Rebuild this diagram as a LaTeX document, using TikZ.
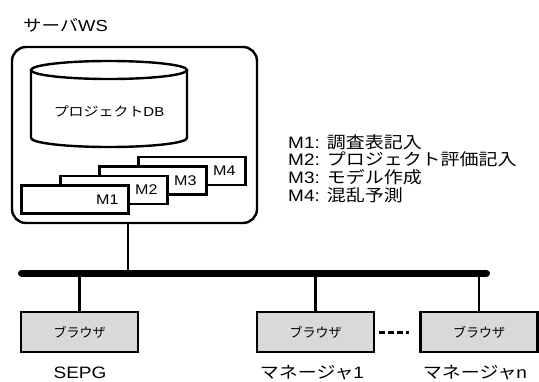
\documentclass[tikz,border=0pt]{standalone}
\usepackage{fontspec}
\setmainfont{Liberation Sans}[FakeStretch=1.15]
\newfontfamily\jp{Noto Sans CJK JP}[FakeStretch=1.15]
\newfontfamily\jpn{Noto Sans CJK JP}
\usetikzlibrary{positioning,calc}
\definecolor{boxgray}{RGB}{217,217,217}

\begin{document}
\begin{tikzpicture}[x=1pt,y=-1pt,
frame/.style={draw,line width=2.4pt},
module/.style={rectangle,draw,line width=2.4pt,fill=white,minimum width=107pt,minimum height=28pt,inner sep=0pt},
mname/.style={anchor=east,inner sep=0pt,font=\fontsize{14}{16}\selectfont},
browser/.style={rectangle,draw,line width=2.8pt,fill=boxgray,minimum width=117pt,minimum height=40pt,inner sep=0pt,font=\fontsize{13}{15}\selectfont\jpn},
user/.style={anchor=base,inner sep=0pt,font=\fontsize{16.5}{18}\selectfont},
link/.style={line width=2.6pt},
bus/.style={line width=7pt,line cap=round},
dots/.style={line width=3pt,dash pattern=on 5.5pt off 3.3pt}]

\useasboundingbox (0,0) rectangle (539,381);

% server
\node[anchor=west,inner sep=0pt,font=\fontsize{16}{18}\selectfont] (srvname) at (23,25) {{\jp サーバ}WS};
\node[frame,rectangle,rounded corners=14pt,minimum width=245pt,minimum height=176pt,inner sep=0pt] (server) at (134.5,135) {};

% database
\draw[frame,fill=white] (31,70) -- (31,138) arc[start angle=180,end angle=0,x radius=78,y radius=9] -- (187,70);
\draw[frame] (109,70) ellipse[x radius=78,y radius=9];
\node[font=\fontsize{13}{15}\selectfont] (db) at (109,111) {{\jp プロジェクト}DB};

% modules, back to front
\node[module] (m4) at (192,171) {};
\node[mname] (m4name) at ([xshift=-11pt]m4.east) {M4};
\node[module] (m3) at (153,180.5) {};
\node[mname] (m3name) at ([xshift=-11pt]m3.east) {M3};
\node[module] (m2) at (114,190) {};
\node[mname] (m2name) at ([xshift=-11pt]m2.east) {M2};
\node[module] (m1) at (75,199.5) {};
\node[mname] (m1name) at ([xshift=-11pt]m1.east) {M1};

% legend
\node[anchor=west,align=left,inner sep=0pt,font=\fontsize{16.5}{17.7}\selectfont] (legend) at (288,168.5)
    {M1: {\jp 調査表記入}\\
    M2: {\jp プロジェクト評価記入}\\
    M3: {\jp モデル作成}\\
    M4: {\jp 混乱予測}};

% network
\coordinate (busl) at (21.5,273);
\coordinate (busr) at (486.5,273);
\coordinate (tap) at (128,273);
\draw[link] (server.south -| tap) -- (tap);
\draw[bus] (busl) -- (busr);

% browsers
\node[browser] (b1) at (79.5,332) {ブラウザ};
\node[browser] (b2) at (315.5,332) {ブラウザ};
\node[browser] (b3) at (479,332) {ブラウザ};

\draw[link] (b1.north) -- (b1.north |- busl);
\draw[link] (b2.north) -- (b2.north |- busl);
\draw[link] (b3.north) -- (b3.north |- busl);
\draw[dots] ([xshift=4pt]b2.east) -- ([xshift=-10pt]b3.west);

% users
\node[user] (sepg) at (80,378.5) {SEPG};
\node[user] (mgr1) at (312,378.5) {{\jp マネージャ}1};
\node[user] (mgrn) at (475,378.5) {{\jp マネージャ}n};

\end{tikzpicture}
\end{document}
